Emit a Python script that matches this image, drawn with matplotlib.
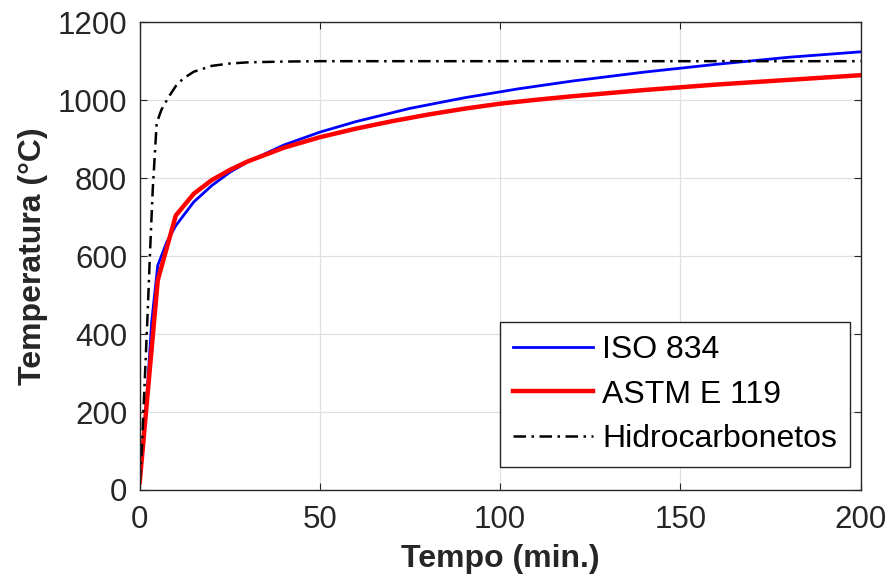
import numpy as np
import matplotlib.pyplot as plt

# --- Data ---
# ISO 834 standard fire curve
iso_t = [0, 2, 3.3, 5, 7.5, 10, 15, 20, 25, 30, 40, 50, 60, 75, 90, 105, 120, 140, 160, 180, 200]
iso_T = [20, 240, 430, 576, 636, 678, 739, 781, 815, 842, 885, 918, 945, 979, 1006, 1029, 1049, 1072, 1092, 1110, 1124]

# ASTM E 119 curve
astm_t = [0, 5, 10, 15, 20, 25, 30, 40, 50, 60, 70, 80, 90, 100, 110, 120, 140, 160, 180, 200]
astm_T = [20, 538, 704, 760, 795, 821, 843, 878, 905, 927, 946, 963, 978, 991, 1001, 1010, 1026, 1040, 1052, 1064]

# Hydrocarbon curve
hc_t = [0, 0.6, 1.4, 2.2, 2.8, 3.6, 4.7, 6, 8, 10, 12, 15, 20, 25, 30, 40, 50, 60, 100, 150, 200]
hc_T = [20, 110, 282, 454, 597, 769, 941, 975, 1008, 1036, 1055, 1073, 1088, 1094, 1097, 1099, 1100, 1100, 1100, 1100, 1100]

# --- Plot ---
plt.rcParams['font.family'] = ['Liberation Sans', 'DejaVu Sans']

fig = plt.figure(figsize=(8.9, 5.84), dpi=100)
ax = fig.add_axes([0.157, 0.161, 0.810, 0.801])

ax.plot(iso_t, iso_T, color='#0000ff', lw=2.0, label='ISO 834')
ax.plot(astm_t, astm_T, color='#ff0000', lw=3.2, label='ASTM E 119')
ax.plot(hc_t, hc_T, color='black', lw=1.8, linestyle=(0, (5, 2.2, 1, 2.2)), label='Hidrocarbonetos')

ax.set_xlim(0, 200)
ax.set_ylim(0, 1200)
ax.set_xticks([0, 50, 100, 150, 200])
ax.set_yticks(range(0, 1201, 200))
ax.grid(True, color='#e0e0e0', lw=0.9)
ax.set_axisbelow(True)

dark = '#262626'
for s in ax.spines.values():
    s.set_color(dark)
    s.set_linewidth(1.0)
ax.tick_params(direction='in', top=True, right=True, length=5, width=0.8,
               colors=dark, labelsize=22.5)
ax.tick_params(axis='x', pad=11)
ax.tick_params(axis='y', pad=9)

ax.set_xlabel('Tempo (min.)', fontsize=23, fontweight='bold', color=dark, labelpad=6)
ax.set_ylabel('Temperatura (°C)', fontsize=23, fontweight='bold', color=dark, labelpad=7)

leg = ax.legend(loc='lower right', bbox_to_anchor=(0.985, 0.049), fontsize=23,
                frameon=True, fancybox=False, edgecolor=dark, framealpha=1,
                handlelength=2.5, borderaxespad=0, labelspacing=0.46,
                handletextpad=0.3, borderpad=0.4)
leg.get_frame().set_linewidth(1.0)

plt.savefig('out.png', dpi=100)
